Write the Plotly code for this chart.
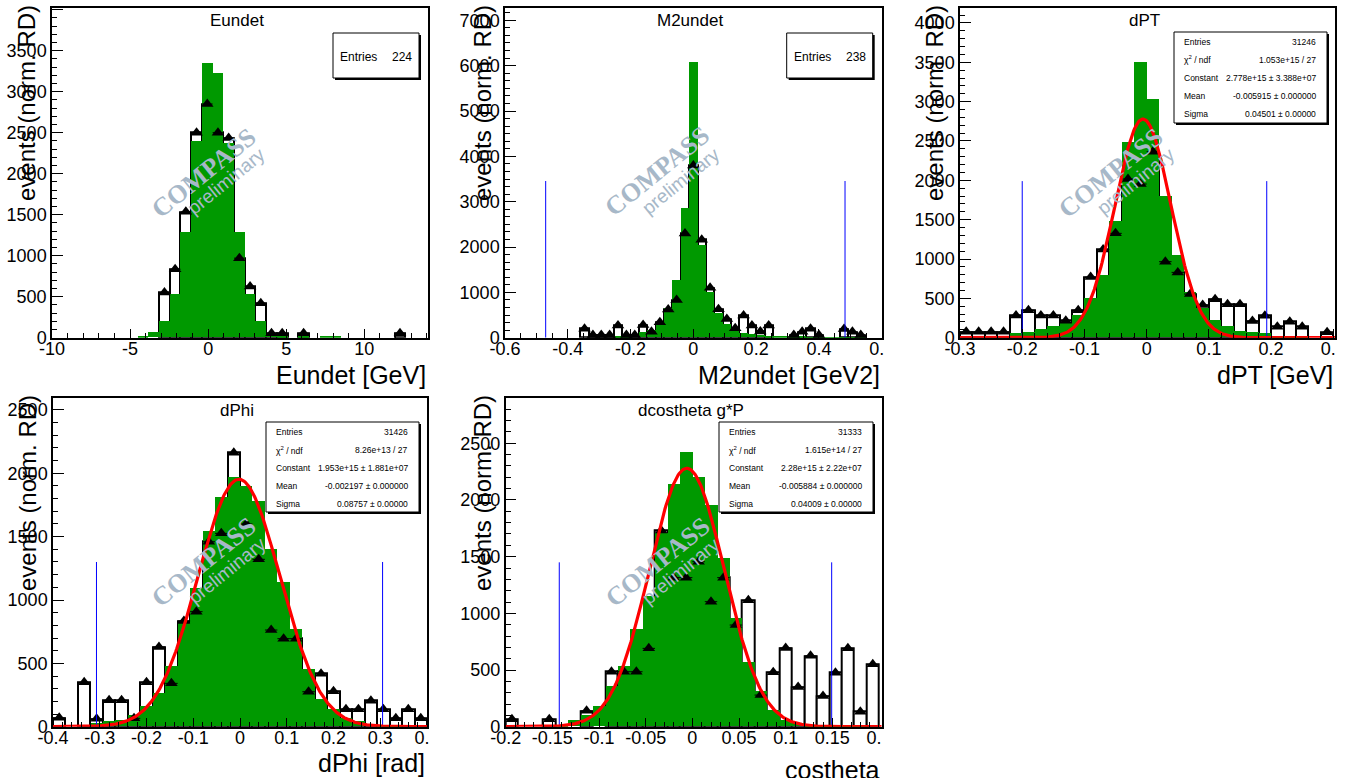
import numpy as np
import plotly.graph_objects as go

W, H = 1349, 778
FONT = "Liberation Sans, Arial, Helvetica, sans-serif"
SERIF = "Liberation Serif, Times New Roman, serif"
GREEN = "#009900"
WM = "#a7b8c8"

# ------------------------------------------------------------------ data
# Eundet: 35 bins on [-10, 14]
eundet_bins = (-10.0, 14.0, 35)
eundet_mc = [0, 0, 0, 0, 0, 0, 0, 0, 20, 70, 200, 535, 1290, 2400, 3350, 3230, 2365, 1285, 530, 195,
             25, 10, 0, 5, 0, 5, 5, 0, 0, 0, 0, 0, 0, 0, 0]
eundet_rd = [0, 0, 0, 0, 0, 0, 0, 0, 0, 0, 550, 835, 1535, 2500, 2850, 2500, 2435, 970, 625, 420,
             55, 55, 0, 55, 0, 0, 0, 0, 0, 0, 0, 0, 55, 0, 0]
eundet_entries = 224

# M2undet: 45 bins on [-0.6, 0.6]
m2_bins = (-0.6, 0.6, 45)
m2_mc = [0, 0, 0, 0, 0, 0, 0, 0, 0, 0, 0, 0, 0, 20, 20, 50, 110, 160, 330, 640,
         1270, 2850, 6070, 2040, 1010, 530, 300, 140, 95, 70, 55, 40, 30, 20, 15, 10, 5, 5, 5, 5,
         5, 5, 5, 0, 0]
m2_rd = [0, 0, 0, 0, 0, 0, 0, 0, 0, 200, 60, 60, 60, 270, 60, 60, 280, 133, 340, 620,
         830, 2300, 3800, 2160, 1100, 630, 415, 206, 490, 270, 135, 270, 0, 0, 60, 130, 200, 60, 0, 0,
         190, 130, 60, 0, 0]
m2_entries = 238
m2_cuts = [-0.4704, 0.4832]
m2_cut_height = 3456

# dPT: 30 bins on [-0.3, 0.3]
dpt_bins = (-0.3, 0.3, 30)
dpt_mc = [0, 0, 0, 0, 55, 70, 110, 145, 185, 285, 500, 788, 1483, 2483, 3496, 3030, 1800, 1042, 576, 373,
          225, 150, 76, 64, 55, 20, 10, 5, 0, 0]
dpt_rd = [75, 75, 75, 75, 283, 350, 283, 283, 215, 350, 770, 1120, 1326, 2017, 1953, 2364, 966, 830, 555, 415,
          490, 424, 424, 212, 280, 140, 203, 140, 0, 68]
dpt_cuts = [-0.2, 0.193]
dpt_cut_height = 1990
dpt_fit = dict(const=2778, mean=-0.005915, sigma=0.04501)
dpt_stats = ["31246", "1.053e+15 / 27", "2.778e+15 ± 3.388e+07", "-0.005915 ± 0.000000", "0.04501 ± 0.00000"]

# dPhi: 30 bins on [-0.4, 0.4]
dphi_bins = (-0.4, 0.4, 30)
dphi_mc = [0, 0, 0, 26, 39, 53, 87, 163, 263, 474, 816, 1092, 1540, 1810, 1968, 1895, 1781, 1403, 1137, 771,
           455, 218, 139, 66, 40, 20, 10, 5, 0, 0]
dphi_rd = [70, 0, 350, 62, 208, 208, 66, 350, 630, 342, 835, 908, 1460, 1526, 2162, 1600, 1321, 763, 695, 695,
           276, 418, 279, 137, 137, 205, 137, 66, 137, 66]
dphi_cuts = [-0.307, 0.305]
dphi_cut_height = 1300
dphi_fit = dict(const=1953, mean=-0.002197, sigma=0.08757)
dphi_stats = ["31426", "8.26e+13 / 27", "1.953e+15 ± 1.881e+07", "-0.002197 ± 0.000000", "0.08757 ± 0.00000"]

# dcostheta: 30 bins on [-0.2, 0.2]
dcos_bins = (-0.2, 0.2, 30)
dcos_mc = [0, 0, 0, 0, 15, 53, 103, 182, 353, 530, 859, 1150, 1706, 2135, 2418, 2200, 1956, 1485, 956, 565,
           309, 147, 59, 30, 15, 5, 5, 5, 5, 0]
dcos_rd = [65, 0, 0, 65, 0, 0, 140, 0, 485, 485, 485, 691, 1730, 1315, 1315, 1456, 1103, 1315, 897, 1115,
           279, 480, 695, 350, 625, 270, 476, 691, 132, 550]
dcos_cuts = [-0.1426, 0.1493]
dcos_cut_height = 1450
dcos_fit = dict(const=2280, mean=-0.005884, sigma=0.04009)
dcos_stats = ["31333", "1.615e+14 / 27", "2.28e+15 ± 2.22e+07", "-0.005884 ± 0.000000", "0.04009 ± 0.00000"]

stat_labels = ["Entries", "χ<sup>2</sup> / ndf", "Constant", "Mean", "Sigma"]

# ------------------------------------------------------------------ panel layout (pixels)
panels = [
    dict(title="Eundet", xtitle="Eundet [GeV]", bins=eundet_bins, mc=eundet_mc, rd=eundet_rd,
         frame=(52, 8.3, 428, 337.7), xr=[-10, 14.08], yr=[0, 4017],
         xt=[-10, -5, 0, 5, 10], xminor=1, yt=list(range(0, 4001, 500)), yminor=100,
         entries=eundet_entries, cuts=None, fit=None, stats=None,
         ytitle_x=27, ytitle_bottom=203, xtitle_y=374.5, title_y=21,
         wm=(203, 173, 226, 182)),
    dict(title="M2undet", xtitle="M2undet [GeV2]", bins=m2_bins, mc=m2_mc, rd=m2_rd,
         frame=(505, 8.3, 881.7, 337.7), xr=[-0.6, 0.6], yr=[0, 7265],
         xt=[-0.6, -0.4, -0.2, 0, 0.2, 0.4, 0.6], xminor=0.05, yt=list(range(0, 7001, 1000)), yminor=1000 / 6,
         entries=m2_entries, cuts=(m2_cuts, m2_cut_height), fit=None, stats=None,
         ytitle_x=483, ytitle_bottom=203, xtitle_y=374.5, title_y=21,
         wm=(657, 172, 680, 181)),
    dict(title="dPT", xtitle="dPT [GeV]", bins=dpt_bins, mc=dpt_mc, rd=dpt_rd,
         frame=(960, 8.3, 1335, 337.7), xr=[-0.3, 0.3027], yr=[0, 4186],
         xt=[-0.3, -0.2, -0.1, 0, 0.1, 0.2, 0.3], xminor=0.02, yt=list(range(0, 4001, 500)), yminor=100,
         entries=None, cuts=(dpt_cuts, dpt_cut_height), fit=dpt_fit, stats=dpt_stats,
         statbox=(1174, 32, 1327, 123), ytitle_x=935, ytitle_bottom=203, xtitle_y=374.5, title_y=21,
         wm=(1110, 173, 1135, 181)),
    dict(title="dPhi", xtitle="dPhi [rad]", bins=dphi_bins, mc=dphi_mc, rd=dphi_rd,
         frame=(53, 398.3, 427, 726.7), xr=[-0.4, 0.4], yr=[0, 2592],
         xt=[-0.4, -0.3, -0.2, -0.1, 0, 0.1, 0.2, 0.3, 0.4], xminor=0.02, yt=list(range(0, 2501, 500)), yminor=100,
         entries=None, cuts=(dphi_cuts, dphi_cut_height), fit=dphi_fit, stats=dphi_stats,
         statbox=(266, 422, 419, 512), ytitle_x=27, ytitle_bottom=593, xtitle_y=763, title_y=411,
         wm=(203, 562, 227, 570)),
    dict(title="dcostheta g*P", xtitle="costheta", bins=dcos_bins, mc=dcos_mc, rd=dcos_rd,
         frame=(505.7, 398.3, 881.7, 726.7), xr=[-0.2, 0.2029], yr=[0, 2897],
         xt=[-0.2, -0.15, -0.1, -0.05, 0, 0.05, 0.1, 0.15, 0.2], xminor=0.01, yt=list(range(0, 2501, 500)), yminor=100,
         entries=None, cuts=(dcos_cuts, dcos_cut_height), fit=dcos_fit, stats=dcos_stats,
         statbox=(719, 422, 873, 512), ytitle_x=482, ytitle_bottom=593, xtitle_y=770, title_y=411,
         wm=(657, 562, 680, 571)),
]


def fx(p):
    return p / W


def fy(p):
    return 1 - p / H


def fmt(v):
    return "{:g}".format(round(v, 6))


fig = go.Figure()
annotations = []
shapes = []

for i, P in enumerate(panels):
    n = "" if i == 0 else str(i + 1)
    xa, ya = "x" + n, "y" + n
    lo, hi, nb = P["bins"]
    bw = (hi - lo) / nb
    centers = [lo + (k + 0.5) * bw for k in range(nb)]

    # RD histogram outline (white boxes, black outline)
    fig.add_trace(go.Bar(x=centers, y=[v if v > 0 else None for v in P["rd"]], width=bw,
                         marker=dict(color="white", line=dict(color="black", width=2)),
                         xaxis=xa, yaxis=ya, hoverinfo="skip"))
    # MC histogram (green filled)
    fig.add_trace(go.Bar(x=centers, y=[v if v > 0 else None for v in P["mc"]], width=bw,
                         marker=dict(color=GREEN, line=dict(width=0)),
                         xaxis=xa, yaxis=ya, hoverinfo="skip"))
    # RD points
    px_ = [c for c, v in zip(centers, P["rd"]) if v > 0]
    py_ = [v for v in P["rd"] if v > 0]
    fig.add_trace(go.Scatter(x=px_, y=py_, mode="markers",
                             marker=dict(symbol="triangle-up", size=11, color="black"),
                             error_x=dict(type="constant", value=bw / 2, thickness=1, width=0, color="black"),
                             xaxis=xa, yaxis=ya, hoverinfo="skip", cliponaxis=False))
    # cut lines
    if P["cuts"]:
        cuts, hcut = P["cuts"]
        for c in cuts:
            fig.add_trace(go.Scatter(x=[c, c], y=[0, hcut], mode="lines",
                                     line=dict(color="#0000ff", width=1),
                                     xaxis=xa, yaxis=ya, hoverinfo="skip"))
    # gaussian fit
    if P["fit"]:
        f = P["fit"]
        xs = np.linspace(P["xr"][0], P["xr"][1], 400)
        ys = f["const"] * np.exp(-0.5 * ((xs - f["mean"]) / f["sigma"]) ** 2)
        fig.add_trace(go.Scatter(x=xs, y=ys, mode="lines", line=dict(color="#ff0000", width=3.2),
                                 xaxis=xa, yaxis=ya, hoverinfo="skip"))

    x0, y0, x1, y1 = P["frame"]
    xtext = [fmt(v) for v in P["xt"]]
    xtext[-1] = xtext[-1][:2] + "<span style='color:rgba(0,0,0,0)'>" + xtext[-1][2:] + "</span>"
    axis_common = dict(showline=True, linecolor="black", linewidth=1.5, mirror=True,
                       ticks="inside", tickcolor="black", tickwidth=1, automargin=False,
                       showgrid=False, zeroline=False, fixedrange=True,
                       tickfont=dict(family=FONT, size=18, color="black"))
    fig.update_layout(**{
        "xaxis" + n: dict(domain=[fx(x0), fx(x1)], range=P["xr"], anchor=ya,
                          tickmode="array", tickvals=P["xt"], ticktext=xtext, ticklen=9,
                          ticklabelstandoff=-6,
                          minor=dict(tickmode="linear", tick0=P["xt"][0], dtick=P["xminor"],
                                     ticks="inside", ticklen=4.5, tickwidth=1, tickcolor="black", showgrid=False),
                          **axis_common),
        "yaxis" + n: dict(domain=[fy(y1), fy(y0)], range=P["yr"], anchor=xa,
                          tickmode="array", tickvals=P["yt"], ticktext=[fmt(v) for v in P["yt"]], ticklen=11,
                          minor=dict(tickmode="linear", tick0=0, dtick=P["yminor"],
                                     ticks="inside", ticklen=5.5, tickwidth=1, tickcolor="black", showgrid=False),
                          **axis_common),
    })

    # title
    annotations.append(dict(text=P["title"], x=fx((x0 + x1) / 2 - 3), y=fy(P["title_y"]), xref="paper", yref="paper",
                            showarrow=False, xanchor="center", yanchor="middle",
                            font=dict(family=FONT, size=17, color="black")))
    # x title
    annotations.append(dict(text=P["xtitle"], x=fx(x1), y=fy(P["xtitle_y"]), xref="paper", yref="paper",
                            showarrow=False, xanchor="right", yanchor="middle",
                            font=dict(family=FONT, size=25, color="black")))
    # y title
    annotations.append(dict(text="events (norm. RD)", x=fx(P["ytitle_x"]), y=fy(P["ytitle_bottom"]),
                            xref="paper", yref="paper", showarrow=False, textangle=-90,
                            xanchor="center", yanchor="bottom",
                            font=dict(family=FONT, size=24, color="black")))
    # watermark
    cx, cy, px2, py2 = P["wm"]
    annotations.append(dict(text="<b>COMPASS</b>", x=fx(cx), y=fy(cy), xref="paper", yref="paper",
                            showarrow=False, textangle=-39, xanchor="center", yanchor="middle",
                            font=dict(family=SERIF, size=26, color=WM)))
    annotations.append(dict(text="preliminary", x=fx(px2), y=fy(py2), xref="paper", yref="paper",
                            showarrow=False, textangle=-39, xanchor="center", yanchor="middle",
                            font=dict(family=FONT, size=19, color=WM)))

    # stat boxes
    if P["entries"] is not None:
        bx0, by0, bx1, by1 = x1 - 95, 33, x1 - 9, 78
        shapes.append(dict(type="rect", xref="paper", yref="paper", x0=fx(bx0 + 2), x1=fx(bx1 + 2),
                           y0=fy(by1 + 2), y1=fy(by0 + 2), fillcolor="black", line=dict(width=0), layer="above"))
        shapes.append(dict(type="rect", xref="paper", yref="paper", x0=fx(bx0), x1=fx(bx1),
                           y0=fy(by1), y1=fy(by0), fillcolor="white", line=dict(color="black", width=1), layer="above"))
        annotations.append(dict(text="Entries", x=fx(bx0 + 5), y=fy(57), xref="paper", yref="paper",
                                showarrow=False, xanchor="left", yanchor="middle",
                                font=dict(family=FONT, size=12, color="black")))
        annotations.append(dict(text=str(P["entries"]), x=fx(bx1 - 5), y=fy(57), xref="paper", yref="paper",
                                showarrow=False, xanchor="right", yanchor="middle",
                                font=dict(family=FONT, size=12, color="black")))
    if P["stats"] is not None:
        bx0, by0, bx1, by1 = P["statbox"]
        shapes.append(dict(type="rect", xref="paper", yref="paper", x0=fx(bx0 + 2), x1=fx(bx1 + 2),
                           y0=fy(by1 + 2), y1=fy(by0 + 2), fillcolor="black", line=dict(width=0), layer="above"))
        shapes.append(dict(type="rect", xref="paper", yref="paper", x0=fx(bx0), x1=fx(bx1),
                           y0=fy(by1), y1=fy(by0), fillcolor="white", line=dict(color="black", width=1), layer="above"))
        for r, (lab, val) in enumerate(zip(stat_labels, P["stats"])):
            yy = by0 + [10, 28, 46, 64, 82][r]
            annotations.append(dict(text=lab, x=fx(bx0 + 8), y=fy(yy), xref="paper", yref="paper",
                                    showarrow=False, xanchor="left", yanchor="middle",
                                    font=dict(family=FONT, size=8.5, color="black")))
            annotations.append(dict(text=val, x=fx(bx1 - 9), y=fy(yy), xref="paper", yref="paper",
                                    showarrow=False, xanchor="right", yanchor="middle",
                                    font=dict(family=FONT, size=8.5, color="black")))

fig.update_layout(template="none", width=W, height=H, margin=dict(l=0, r=0, t=0, b=0, autoexpand=False),
                  paper_bgcolor="white", plot_bgcolor="white", showlegend=False,
                  barmode="overlay", bargap=0, annotations=annotations, shapes=shapes)

fig.write_html("out.html", config={"displayModeBar": False},
               post_script="document.body.style.margin='0';")
